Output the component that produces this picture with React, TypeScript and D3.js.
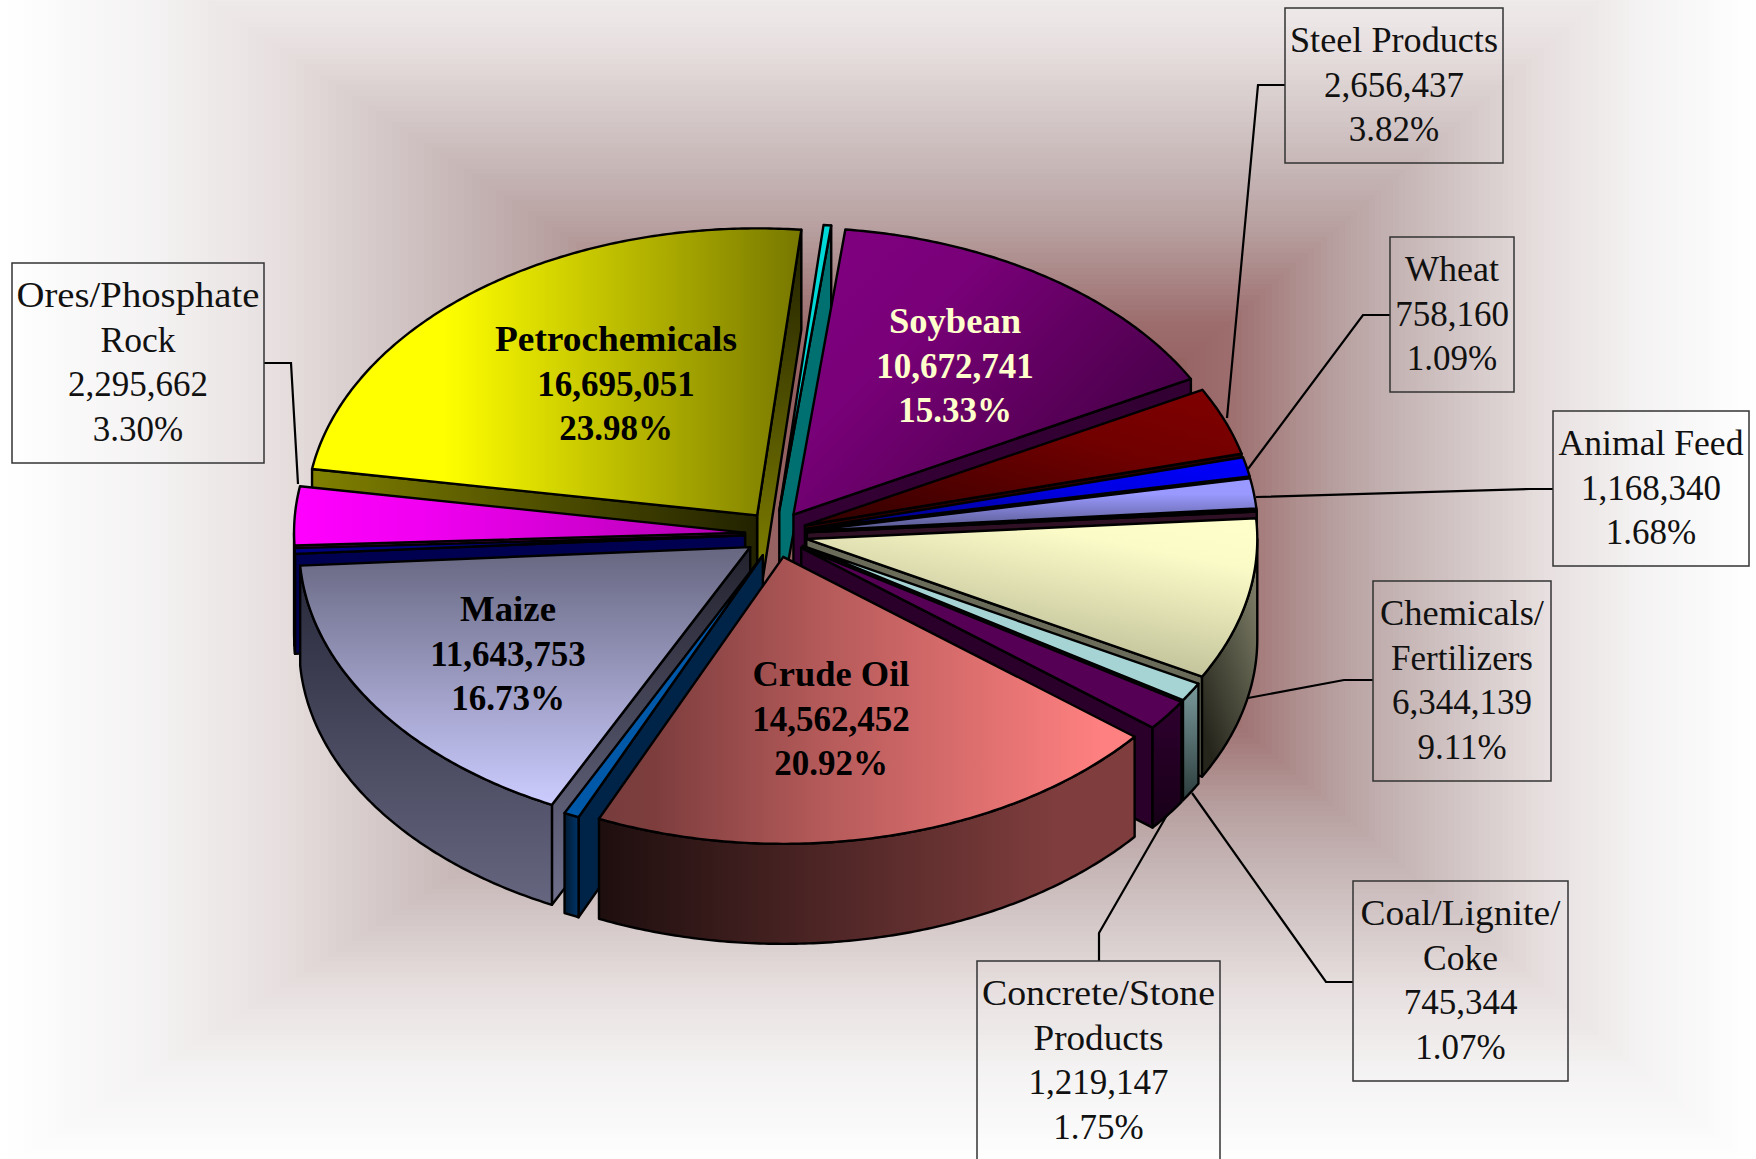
import React from "react";
import * as d3 from "d3";

// ---------- data ----------
const categories = ["Petrochemicals","Unlabelled A","Soybean","Steel Products","Wheat","Animal Feed","Unlabelled B","Chemicals/Fertilizers","Coal/Lignite/Coke","Concrete/Stone Products","Crude Oil","Unlabelled C","Maize","Unlabelled D","Ores/Phosphate Rock"];
const tonnage = [16695051,190000,10672741,2656437,758160,1168340,70000,6344139,745344,1219147,14562452,380000,11643753,220000,2295662];
const shares = ["23.98%","","15.33%","3.82%","1.09%","1.68%","","9.11%","1.07%","1.75%","20.92%","","16.73%","","3.30%"];

// ---------- layout ----------
const W = 1756, H = 1159;
const CX = 776, CY = 534, RX = 451, RY = 287, DEPTH = 100, EX = 31, EY = 23.5;
const START = (-80.7 * Math.PI) / 180;

type Paint = string | [number, number, number, number, ...[number, string][]];
const skin: { top: Paint; outer: Paint; end: Paint; start: Paint }[] = [
  { top: [0,0,1,0,[0,"#ffff00"],[0.27,"#ffff00"],[1,"#777700"]], outer: "#808000", end: [0,0,0,1,[0,"#1e1e00"],[1,"#8a8a00"]], start: [0,0,1,0,[0,"#808000"],[1,"#222200"]] },
  { top: "#00d8d8", outer: "#007070", end: "#007070", start: "#007070" },
  { top: [0,0.15,1,0.85,[0,"#800080"],[0.3,"#780078"],[1,"#3c003c"]], outer: "#330033", end: "#330033", start: "#330033" },
  { top: [0.95,0,0,1,[0,"#800000"],[0.35,"#700000"],[1,"#300000"]], outer: "#400000", end: "#300000", start: "#300000" },
  { top: [1,0,0,1,[0,"#0000ff"],[0.45,"#0000e0"],[1,"#000070"]], outer: "#000080", end: "#000040", start: "#000040" },
  { top: [0.95,0,0.95,1,[0,"#9999ff"],[0.3,"#9999ff"],[1,"#555588"]], outer: "#444477", end: "#333355", start: "#333355" },
  { top: "#501a3c", outer: "#301024", end: "#301024", start: "#301024" },
  { top: [1,0,0.45,1,[0,"#ffffcc"],[0.25,"#fbfbc8"],[1,"#b3b38f"]], outer: [1,0,0.3,1,[0,"#8a8a72"],[1,"#25251c"]], end: "#6b6b5a", start: "#6b6b5a" },
  { top: "#a6d4d4", outer: [0,0,0,1,[0,"#7a9a9c"],[1,"#2c3c3c"]], end: "#536a6a", start: "#536a6a" },
  { top: "#550055", outer: [0,0,0,1,[0,"#2e002e"],[1,"#170017"]], end: "#2a002a", start: "#2a002a" },
  { top: [0,0,1,0,[0,"#783c3c"],[0.1,"#7d3d3d"],[0.42,"#b55a5a"],[0.94,"#ff8080"],[1,"#ff8080"]], outer: [0,0,1,0,[0,"#1e0e0e"],[0.85,"#7f3d3d"],[1,"#7f3d3d"]], end: "#400000", start: "#400000" },
  { top: "#0058a8", outer: [0,0,1,0,[0,"#001a33"],[1,"#003468"]], end: "#002448", start: "#002448" },
  { top: [0,0,0,1,[0,"#666680"],[1,"#ccccff"]], outer: [0,0,0,1,[0,"#28283a"],[1,"#666680"]], end: "#333344", start: [0,0,0,1,[0,"#22222e"],[1,"#70708c"]] },
  { top: "#000080", outer: "#000050", end: "#000050", start: "#000050" },
  { top: [0,0,1,0,[0,"#ff00ff"],[0.3,"#f000f0"],[1,"#b000b0"]], outer: "#800080", end: "#500050", start: "#800080" },
];

const insideLabels = [
  { i: 0, x: 616, y: 351, fill: "#000", nameWidth: 242 },
  { i: 2, x: 955, y: 333, fill: "#ffffcc", nameWidth: 132 },
  { i: 12, x: 508, y: 621, fill: "#000", nameWidth: 96 },
  { i: 10, x: 831, y: 686, fill: "#000", nameWidth: 157 },
];
const calloutLayout = [
  { i: 3, lines: ["Steel Products"], widths: [208], box: [1285, 8, 218, 155], leader: [[1285, 85], [1258, 85], [1227, 418]] },
  { i: 4, lines: ["Wheat"], widths: [94], box: [1390, 237, 124, 155], leader: [[1390, 315], [1363, 315], [1248, 469]] },
  { i: 5, lines: ["Animal Feed"], widths: [185], box: [1553, 411, 196, 155], leader: [[1553, 489], [1530, 489], [1256, 497]] },
  { i: 7, lines: ["Chemicals/", "Fertilizers"], widths: [164, 142], box: [1373, 581, 178, 200], leader: [[1373, 680], [1344, 680], [1248, 698]] },
  { i: 8, lines: ["Coal/Lignite/", "Coke"], widths: [200, 75], box: [1353, 881, 215, 200], leader: [[1353, 982], [1326, 982], [1192, 793]] },
  { i: 9, lines: ["Concrete/Stone", "Products"], widths: [233, 130], box: [977, 961, 243, 204], leader: [[1099, 961], [1099, 933], [1167, 815]] },
  { i: 14, lines: ["Ores/Phosphate", "Rock"], widths: [243, 75], box: [12, 263, 252, 200], leader: [[264, 363], [291, 363], [298, 484]] },
];

// ---------- background: nested rectangles of a rectangular path gradient ----------
const BG = { cx: 1000, cy: 520, l: 1000, r: 756, t: 655, b: 650 };
const bgColor = d3.scaleLinear<string>()
  .domain([0, 0.15, 0.3, 0.45, 0.55, 0.64, 0.73, 0.85, 1])
  .range(["#8a4848", "#8f5656", "#9c6c6c", "#b8a0a0", "#c8b8b8", "#d8cccc", "#e8e0e0", "#f4f2f2", "#ffffff"]);
const bgSteps = d3.range(1, 0, -0.008);

// ---------- geometry ----------
const pie = d3.pie<number>().sort(null).value((d) => d).startAngle(START).endAngle(START + 2 * Math.PI);
const arcs = pie(tonnage);
const fmt = d3.format(",");
const line = d3.line();

function paintId(idx: number, part: string) { return `g${idx}${part}`; }
function fillOf(p: Paint, idx: number, part: string) { return typeof p === "string" ? p : `url(#${paintId(idx, part)})`; }

const slices = arcs.map((a, idx) => {
  const mid = (a.startAngle + a.endAngle) / 2;
  const ax = CX + EX * Math.sin(mid), ay = CY - EY * Math.cos(mid);
  const rim = (t: number): [number, number] => [ax + RX * Math.sin(t), ay - RY * Math.cos(t)];
  const samples = (t0: number, t1: number) => {
    const n = Math.max(2, Math.ceil(Math.abs(t1 - t0) / 0.01));
    return d3.range(n + 1).map((k) => rim(t0 + ((t1 - t0) * k) / n));
  };
  const down = (p: [number, number]): [number, number] => [p[0], p[1] + DEPTH];
  const apex: [number, number] = [ax, ay];
  const top = line([apex, ...samples(a.startAngle, a.endAngle)])! + "Z";
  const wall = (t: number) => line([apex, rim(t), down(rim(t)), down(apex)])! + "Z";
  const o0 = Math.max(a.startAngle, Math.PI / 2), o1 = Math.min(a.endAngle, (3 * Math.PI) / 2);
  let outer: string | null = null;
  if (o1 > o0) {
    const s = samples(o0, o1);
    outer = line([...s, ...s.slice().reverse().map(down)])! + "Z";
  }
  return {
    idx, mid, top, outer,
    end: Math.sin(a.endAngle) > 0 ? wall(a.endAngle) : null,
    start: Math.sin(a.startAngle) < 0 ? wall(a.startAngle) : null,
  };
});
const paintOrder = slices.slice().sort((p, q) => d3.descending(Math.cos(p.mid), Math.cos(q.mid)));

const FONT = "'Liberation Serif', serif";
const LH = 44.6;

export default function App() {
  const defs: React.ReactNode[] = [];
  skin.forEach((s, idx) => {
    (["top", "outer", "end", "start"] as const).forEach((part) => {
      const p = s[part];
      if (typeof p === "string") return;
      const [x1, y1, x2, y2, ...stops] = p as any;
      defs.push(
        <linearGradient key={paintId(idx, part)} id={paintId(idx, part)} x1={x1} y1={y1} x2={x2} y2={y2}>
          {stops.map((st: [number, string], k: number) => <stop key={k} offset={st[0]} stopColor={st[1]} />)}
        </linearGradient>
      );
    });
  });
  const stroke = { stroke: "#000", strokeWidth: 2.4, strokeLinejoin: "round" as const };
  return (
    <svg width={W} height={H} viewBox={`0 0 ${W} ${H}`} style={{ position: "absolute", left: 0, top: 0, display: "block" }} fontFamily={FONT}>
      <defs>{defs}</defs>
      <rect width={W} height={H} fill="#fff" />
      <g shapeRendering="crispEdges">
        {bgSteps.map((t, k) => (
          <rect key={k} x={BG.cx - t * BG.l} y={BG.cy - t * BG.t} width={t * (BG.l + BG.r)} height={t * (BG.t + BG.b)} fill={bgColor(t)} />
        ))}
      </g>
      {calloutLayout.map((c) => (
        <g key={c.i}>
          <path d={line(c.leader as [number, number][])!} fill="none" stroke="#000" strokeWidth={2.2} />
          <rect x={c.box[0]} y={c.box[1]} width={c.box[2]} height={c.box[3]} fill="none" stroke="#333" strokeWidth={1.5} />
        </g>
      ))}
      {paintOrder.map((s) => (
        <g key={s.idx} {...stroke}>
          {s.end && <path d={s.end} fill={fillOf(skin[s.idx].end, s.idx, "end")} />}
          {s.start && <path d={s.start} fill={fillOf(skin[s.idx].start, s.idx, "start")} />}
          {s.outer && <path d={s.outer} fill={fillOf(skin[s.idx].outer, s.idx, "outer")} />}
          <path d={s.top} fill={fillOf(skin[s.idx].top, s.idx, "top")} />
        </g>
      ))}
      {insideLabels.map((l) => (
        <g key={l.i} textAnchor="middle" fontSize={35} fontWeight="bold" fill={l.fill}>
          <text x={l.x} y={l.y} textLength={l.nameWidth} lengthAdjust="spacingAndGlyphs">{categories[l.i]}</text>
          <text x={l.x} y={l.y + LH}>{fmt(tonnage[l.i])}</text>
          <text x={l.x} y={l.y + 2 * LH}>{shares[l.i]}</text>
        </g>
      ))}
      {calloutLayout.map((c) => {
        const cx = c.box[0] + c.box[2] / 2, y0 = c.box[1] + 44;
        return (
          <g key={c.i} textAnchor="middle" fontSize={35} fill="#111">
            {c.lines.map((t, k) => (
              <text key={k} x={cx} y={y0 + k * LH} textLength={c.widths[k]} lengthAdjust="spacingAndGlyphs">{t}</text>
            ))}
            <text x={cx} y={y0 + c.lines.length * LH}>{fmt(tonnage[c.i])}</text>
            <text x={cx} y={y0 + (c.lines.length + 1) * LH}>{shares[c.i]}</text>
          </g>
        );
      })}
    </svg>
  );
}
